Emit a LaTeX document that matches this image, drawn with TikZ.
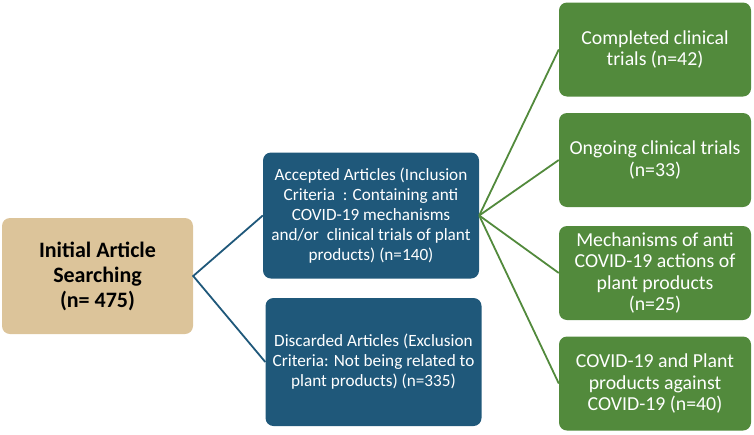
\documentclass[tikz,border=0pt]{standalone}
\usepackage{fontspec}
\setmainfont{Carlito}
\usepackage{tikz}
\usetikzlibrary{arrows.meta,calc}
\definecolor{tanbox}{RGB}{220,196,154}
\definecolor{bluebox}{RGB}{31,88,122}
\definecolor{greenbox}{RGB}{82,138,60}

\begin{document}
\begin{tikzpicture}[x=1pt,y=-1pt,
  box/.style={rounded corners=8pt, align=center, inner sep=2pt},
  tanstep/.style={box, fill=tanbox, text=black, font=\fontsize{22}{25}\selectfont\bfseries, minimum width=191pt, minimum height=116pt},
  bluestep/.style={box, fill=bluebox, text=white, font=\fontsize{17.2}{20}\selectfont, minimum width=216pt, minimum height=126pt},
  greenstep/.style={box, fill=greenbox, text=white, font=\fontsize{19.8}{21.6}\selectfont, minimum width=192pt, minimum height=94pt}]
\useasboundingbox (0,0) rectangle (754,434);

\node[tanstep] (init) at (97.5,276) {Initial Article\\Searching\\(n= 475)};

\node[bluestep] (accepted) at (371,215.5) {Accepted Articles (Inclusion\\Criteria\ \ : Containing anti\\COVID-19 mechanisms\\and/or\ \ clinical trials of plant\\products) (n=140)};
\node[bluestep, minimum height=128pt] (discarded) at (373.5,362) {Discarded Articles (Exclusion\\Criteria: Not being related to\\plant products) (n=335)};

\node[greenstep] (completed) at (655,49.5) {Completed clinical\\trials (n=42)};
\node[greenstep] (ongoing) at (655,160) {Ongoing clinical trials\\(n=33)};
\node[greenstep] (mechanisms) at (655,273) {Mechanisms of anti\\COVID-19 actions of\\plant products\\(n=25)};
\node[greenstep] (against) at (655,383.5) {COVID-19 and Plant\\products against\\COVID-19 (n=40)};

\draw[bluebox, line width=1.8pt] (accepted.west) -- (init.east) -- (discarded.west);
\foreach \g in {completed,ongoing,mechanisms,against}
  \draw[greenbox, line width=1.8pt] (accepted.east) -- (\g.west);
\end{tikzpicture}
\end{document}
